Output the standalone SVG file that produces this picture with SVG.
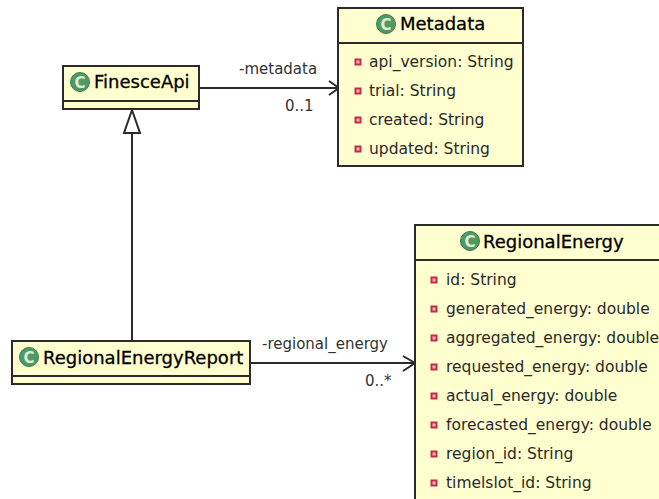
<svg xmlns="http://www.w3.org/2000/svg" width="659" height="499" viewBox="0 0 659 499">
<style>
text{font-family:"DejaVu Sans","Liberation Sans",sans-serif}
.box{fill:#fefece;stroke:#2b2b2b;stroke-width:2}
.div{stroke:#2b2b2b;stroke-width:2;fill:none}
.t{font-size:18px;fill:#000;stroke:#000;stroke-width:.3}
.a{font-size:15.5px;fill:#2a2a2a}
.l{font-size:15px;fill:#333}
.ci{fill:#4f9a63;stroke:#3c7f50;stroke-width:1}
.cg{font-size:15px;font-weight:bold;fill:#dfecd9;text-anchor:middle}
.m{fill:#f2b8c0;stroke:#c82a45;stroke-width:2}
.c{stroke:#2b2b2b;stroke-width:2;fill:none}
</style>
<defs>
<g id="icon"><circle class="ci" cx="0" cy="0" r="9.5"/><text class="cg" x="0" y="5.5">C</text></g>
<rect id="mk" class="m" x="-2.5" y="-2.5" width="5" height="5"/>
</defs>
<g id="connectors">
<path class="c" d="M199 88H338M329 81L339 88L329 95"/>
<path class="c" d="M132 344V134"/>
<path class="c" d="M132 110L124 133H140Z" fill="#fff"/>
<path class="c" d="M250 363H415M403 356L415 363L403 371"/>
<text class="l" x="239" y="74">-metadata</text>
<text class="l" x="285" y="111">0..1</text>
<text class="l" x="262" y="349">-regional_energy</text>
<text class="l" x="365" y="386">0..*</text>
</g>
<g id="FinesceApi">
<rect class="box" x="63" y="66" width="136" height="43"/>
<path class="div" d="M63 101H199"/>
<use href="#icon" x="80" y="82"/>
<text class="t" x="94" y="88">FinesceApi</text>
</g>
<g id="Metadata">
<rect class="box" x="338" y="8" width="185" height="158"/>
<path class="div" d="M338 43H523"/>
<use href="#icon" x="386" y="24"/>
<text class="t" x="400" y="30">Metadata</text>
<use href="#mk" x="358" y="62"/><text class="a" x="369" y="67">api_version: String</text>
<use href="#mk" x="358" y="91"/><text class="a" x="369" y="96">trial: String</text>
<use href="#mk" x="358" y="120"/><text class="a" x="369" y="125">created: String</text>
<use href="#mk" x="358" y="149"/><text class="a" x="369" y="154">updated: String</text>
</g>
<g id="RegionalEnergyReport">
<rect class="box" x="12" y="341" width="238" height="43"/>
<path class="div" d="M12 376H250"/>
<use href="#icon" x="29" y="357"/>
<text class="t" x="43" y="364">RegionalEnergyReport</text>
</g>
<g id="RegionalEnergy">
<rect class="box" x="415" y="225" width="260" height="290"/>
<path class="div" d="M415 260H675"/>
<use href="#icon" x="470" y="241"/>
<text class="t" x="483" y="248">RegionalEnergy</text>
<use href="#mk" x="434" y="280"/><text class="a" x="446" y="285">id: String</text>
<use href="#mk" x="434" y="309"/><text class="a" x="446" y="314">generated_energy: double</text>
<use href="#mk" x="434" y="338"/><text class="a" x="446" y="343">aggregated_energy: double</text>
<use href="#mk" x="434" y="367"/><text class="a" x="446" y="372">requested_energy: double</text>
<use href="#mk" x="434" y="396"/><text class="a" x="446" y="401">actual_energy: double</text>
<use href="#mk" x="434" y="425"/><text class="a" x="446" y="430">forecasted_energy: double</text>
<use href="#mk" x="434" y="454"/><text class="a" x="446" y="459">region_id: String</text>
<use href="#mk" x="434" y="483"/><text class="a" x="446" y="488">timelslot_id: String</text>
</g>
</svg>
